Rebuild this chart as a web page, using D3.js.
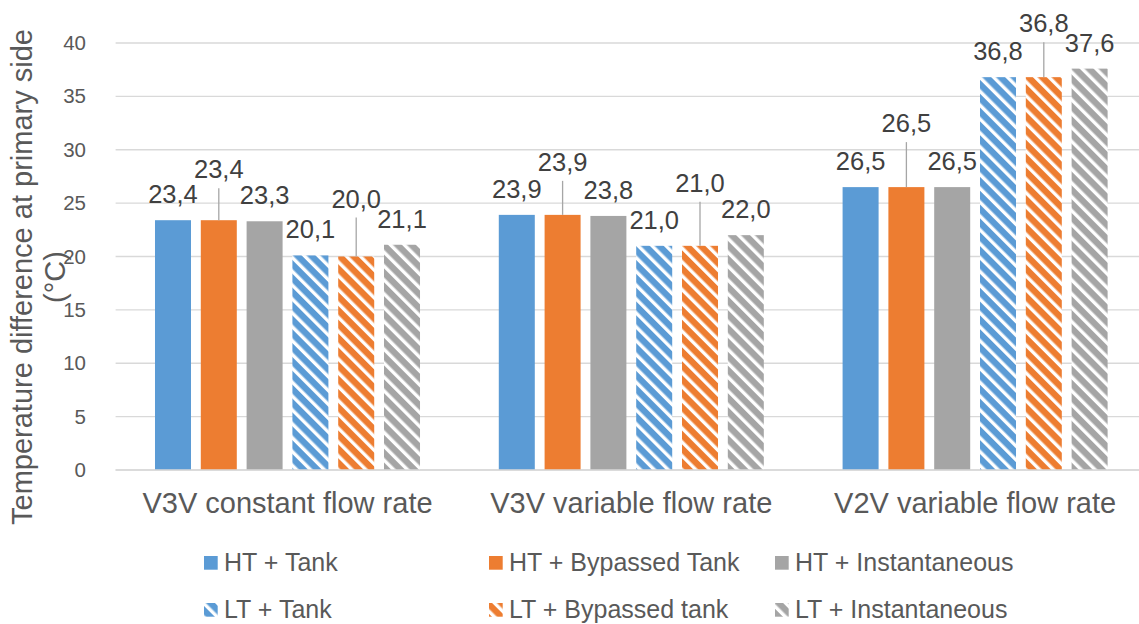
<!DOCTYPE html>
<html>
<head>
<meta charset="utf-8">
<script src="https://cdn.jsdelivr.net/npm/d3@7"></script>
<style>
  body { margin: 0; background: #fff; }
  svg { display: block; font-family: 'Liberation Sans', Arial, sans-serif; }
</style>
</head>
<body>
<div id="chart"></div>
<script>
// Temperature difference at primary side, per control strategy and configuration
var categories = ['V3V constant flow rate', 'V3V variable flow rate', 'V2V variable flow rate']
var seriesNames = ['HT + Tank', 'HT + Bypassed Tank', 'HT + Instantaneous',
  'LT + Tank', 'LT + Bypassed tank', 'LT + Instantaneous']
var htTank        = [23.4, 23.9, 26.5]
var htBypassed    = [23.4, 23.9, 26.5]
var htInstant     = [23.3, 23.8, 26.5]
var ltTank        = [20.1, 21.0, 36.8]
var ltBypassed    = [20.0, 21.0, 36.8]
var ltInstant     = [21.1, 22.0, 37.6]
var yTicks = [0, 5, 10, 15, 20, 25, 30, 35, 40]

var seriesValues = [htTank, htBypassed, htInstant, ltTank, ltBypassed, ltInstant]

// styling per series: solid for HT, wide downward diagonal hatch for LT
var seriesStyle = [
  {color: '#5B9BD5', hatch: false},
  {color: '#ED7D31', hatch: false},
  {color: '#A5A5A5', hatch: false},
  {color: '#5B9BD5', hatch: true},
  {color: '#ED7D31', hatch: true},
  {color: '#A5A5A5', hatch: true}
]
// labels that were dragged up in the original (px above default), with leader lines
var labelNudge = {1: [25, 27, 38], 4: [32, 37, 28]}

var W = 1139, H = 624
var svg = d3.select('#chart').append('svg').attr('width', W).attr('height', H)

var plot = {left: 115.6, right: 1147, top: 43, bottom: 470}

var x0 = d3.scaleBand().domain(categories).range([plot.left, plot.right])
var x1 = d3.scaleBand().domain(d3.range(seriesNames.length))
  .range([0, x0.bandwidth()]).paddingInner(0.214).paddingOuter(0.86)
var y = d3.scaleLinear().domain([0, 40]).range([plot.bottom, plot.top])

// ---- hatch patterns ----
var P = 9.8
var defs = svg.append('defs')
seriesStyle.forEach(function(s, i){
  if (!s.hatch) return
  var p = defs.append('pattern')
    .attr('id', 'hatch' + i)
    .attr('patternUnits', 'userSpaceOnUse')
    .attr('width', P).attr('height', P)
    .attr('patternTransform', 'rotate(-45)')
  p.append('rect').attr('width', P).attr('height', P).attr('fill', s.color)
  p.append('rect').attr('width', 3.4).attr('height', P).attr('fill', '#fff')
})
function fillOf(i){
  return seriesStyle[i].hatch ? 'url(#hatch' + i + ')' : seriesStyle[i].color
}

// ---- gridlines ----
svg.append('g').selectAll('line').data(yTicks).join('line')
  .attr('x1', plot.left).attr('x2', W)
  .attr('y1', function(d){ return y(d) }).attr('y2', function(d){ return y(d) })
  .attr('stroke', '#D9D9D9').attr('stroke-width', 1.3)

// ---- y tick labels ----
svg.append('g').selectAll('text').data(yTicks).join('text')
  .attr('x', 86).attr('y', function(d){ return y(d) + 7 })
  .attr('text-anchor', 'end').attr('font-size', 20.5).attr('fill', '#595959')
  .text(function(d){ return d })

// ---- bars ----
var groups = svg.append('g').selectAll('g').data(categories).join('g')
  .attr('transform', function(d){ return 'translate(' + x0(d) + ',0)' })

groups.each(function(cat, ci){
  var g = d3.select(this)
  seriesValues.forEach(function(vals, si){
    g.append('rect')
      .attr('x', x1(si)).attr('width', x1.bandwidth())
      .attr('y', y(vals[ci])).attr('height', y(0) - y(vals[ci]))
      .attr('fill', fillOf(si))
  })
})

// ---- data labels (comma decimal) ----
var fmt = function(v){ return v.toFixed(1).replace('.', ',') }
var labels = svg.append('g')
categories.forEach(function(cat, ci){
  seriesValues.forEach(function(vals, si){
    var cx = x0(cat) + x1(si) + x1.bandwidth() / 2
    var top = y(vals[ci])
    var base = top - 17
    var nudge = labelNudge[si] ? labelNudge[si][ci] : 0
    if (nudge){
      base -= nudge
      labels.append('line')
        .attr('x1', cx).attr('x2', cx).attr('y1', base + 10).attr('y2', top)
        .attr('stroke', '#A6A6A6').attr('stroke-width', 1.3)
    }
    labels.append('text')
      .attr('x', cx).attr('y', base)
      .attr('text-anchor', 'middle').attr('font-size', 25.5).attr('fill', '#404040')
      .text(fmt(vals[ci]))
  })
})

// ---- x axis ----
svg.append('line')
  .attr('x1', plot.left).attr('x2', W).attr('y1', plot.bottom).attr('y2', plot.bottom)
  .attr('stroke', '#D9D9D9').attr('stroke-width', 1.3)
svg.append('g').selectAll('text').data(categories).join('text')
  .attr('x', function(d){ return x0(d) + x0.bandwidth() / 2 })
  .attr('y', 513)
  .attr('text-anchor', 'middle').attr('font-size', 29).attr('fill', '#595959')
  .text(function(d){ return d })

// ---- y axis title ----
var yt = svg.append('text')
  .attr('transform', 'translate(0,277) rotate(-90)')
  .attr('text-anchor', 'middle').attr('font-size', 29).attr('fill', '#595959')
yt.append('tspan').attr('x', 0).attr('y', 32).text('Temperature difference at primary side')
yt.append('tspan').attr('x', 0).attr('y', 65).text('(°C)')

// ---- legend ----
var legendCols = [204, 489, 775]
var legendRows = [556, 603]
var legend = svg.append('g')
seriesNames.forEach(function(name, i){
  var lx = legendCols[i % 3], ly = legendRows[Math.floor(i / 3)]
  legend.append('rect')
    .attr('x', lx).attr('y', ly).attr('width', 13.7).attr('height', 13.7)
    .attr('fill', fillOf(i))
  legend.append('text')
    .attr('x', lx + 20).attr('y', ly + 15)
    .attr('font-size', 25).attr('fill', '#595959')
    .text(name)
})
</script>
</body>
</html>
